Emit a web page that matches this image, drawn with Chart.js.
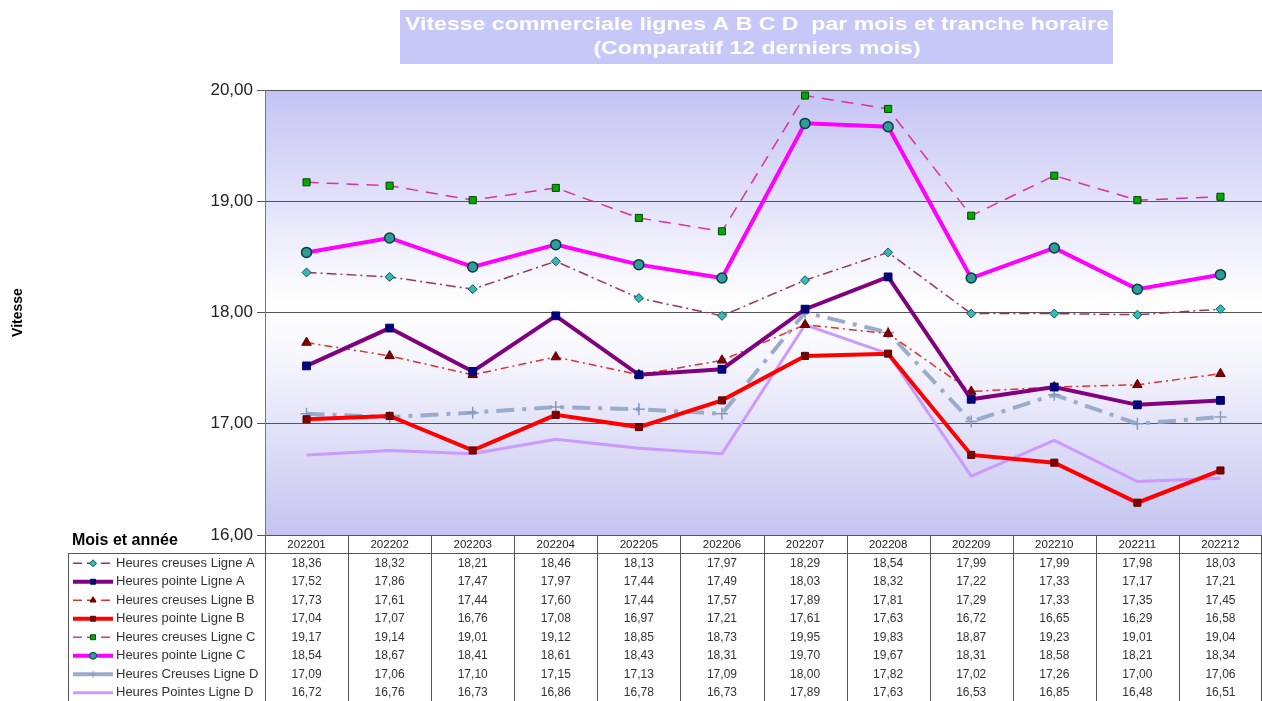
<!DOCTYPE html>
<html>
<head>
<meta charset="utf-8">
<script src="https://cdn.jsdelivr.net/npm/chart.js@4.4.0/dist/chart.umd.min.js"></script>
<style>
  html, body { margin: 0; padding: 0; background: #fff; overflow: hidden; }
  canvas { display: block; }
</style>
</head>
<body>
<canvas id="vitesseChart" width="1262" height="701"></canvas>
<script>
// months (x categories)
const mois = ['202201', '202202', '202203', '202204', '202205', '202206', '202207', '202208', '202209', '202210', '202211', '202212'];

// series values
const hcLigneA = [18.36, 18.32, 18.21, 18.46, 18.13, 17.97, 18.29, 18.54, 17.99, 17.99, 17.98, 18.03];
const hpLigneA = [17.52, 17.86, 17.47, 17.97, 17.44, 17.49, 18.03, 18.32, 17.22, 17.33, 17.17, 17.21];
const hcLigneB = [17.73, 17.61, 17.44, 17.60, 17.44, 17.57, 17.89, 17.81, 17.29, 17.33, 17.35, 17.45];
const hpLigneB = [17.04, 17.07, 16.76, 17.08, 16.97, 17.21, 17.61, 17.63, 16.72, 16.65, 16.29, 16.58];
const hcLigneC = [19.17, 19.14, 19.01, 19.12, 18.85, 18.73, 19.95, 19.83, 18.87, 19.23, 19.01, 19.04];
const hpLigneC = [18.54, 18.67, 18.41, 18.61, 18.43, 18.31, 19.70, 19.67, 18.31, 18.58, 18.21, 18.34];
const hcLigneD = [17.09, 17.06, 17.10, 17.15, 17.13, 17.09, 18.00, 17.82, 17.02, 17.26, 17.00, 17.06];
const hpLigneD = [16.72, 16.76, 16.73, 16.86, 16.78, 16.73, 17.89, 17.63, 16.53, 16.85, 16.48, 16.51];

// y axis ticks
const yTicks = [16, 17, 18, 19, 20];

const titre = ['Vitesse commerciale lignes A B C D  par mois et tranche horaire', '(Comparatif 12 derniers mois)'];

function fr(v) {
    return v.toFixed(2).replace('.', ',');
}

const datasets = [
    {
        label: 'Heures creuses Ligne A', data: hcLigneA,
        borderColor: '#993366', borderWidth: 1.5, borderDash: [10, 4, 2, 4],
        pointStyle: 'rectRot', pointRadius: 4.5, pointBackgroundColor: '#33bbbb', pointBorderColor: '#115555', pointBorderWidth: 1
    },
    {
        label: 'Heures pointe Ligne A', data: hpLigneA,
        borderColor: '#800080', borderWidth: 4,
        pointStyle: 'rect', pointRadius: 5.5, pointBackgroundColor: '#000080', pointBorderColor: '#000060', pointBorderWidth: 1
    },
    {
        label: 'Heures creuses Ligne B', data: hcLigneB,
        borderColor: '#e03030', borderWidth: 1.5, borderDash: [8, 4, 2, 4],
        pointStyle: 'triangle', pointRadius: 5.5, pointBackgroundColor: '#800000', pointBorderColor: '#600000', pointBorderWidth: 1
    },
    {
        label: 'Heures pointe Ligne B', data: hpLigneB,
        borderColor: '#ff0000', borderWidth: 4,
        pointStyle: 'rect', pointRadius: 5, pointBackgroundColor: '#800000', pointBorderColor: '#600000', pointBorderWidth: 1
    },
    {
        label: 'Heures creuses Ligne C', data: hcLigneC,
        borderColor: '#e0309a', borderWidth: 1.5, borderDash: [12, 8],
        pointStyle: 'rect', pointRadius: 5, pointBackgroundColor: '#00aa00', pointBorderColor: '#004400', pointBorderWidth: 1
    },
    {
        label: 'Heures pointe Ligne C', data: hpLigneC,
        borderColor: '#ff00ff', borderWidth: 4,
        pointStyle: 'circle', pointRadius: 5, pointBackgroundColor: '#339999', pointBorderColor: '#004040', pointBorderWidth: 1.5
    },
    {
        label: 'Heures Creuses Ligne D', data: hcLigneD,
        borderColor: '#9aaccc', borderWidth: 4, borderDash: [18, 8, 4, 8],
        pointStyle: 'cross', pointRadius: 6, pointBorderColor: '#8899bb', pointBorderWidth: 1.5
    },
    {
        label: 'Heures Pointes Ligne D', data: hpLigneD,
        borderColor: '#cc99ff', borderWidth: 3,
        pointRadius: 0
    }
];

// background gradient + title box
const decorPlugin = {
    id: 'decor',
    beforeDraw(chart) {
        const { ctx, chartArea: a } = chart;
        const g = ctx.createLinearGradient(0, a.top, 0, a.bottom);
        g.addColorStop(0, '#c4c4f4');
        g.addColorStop(0.25, '#e2e2fa');
        g.addColorStop(0.48, '#ffffff');
        g.addColorStop(0.62, '#f4f4fd');
        g.addColorStop(1, '#c4c4f0');
        ctx.save();
        ctx.fillStyle = g;
        ctx.fillRect(a.left, a.top, a.right - a.left, a.bottom - a.top);

        // title, stretched to fill the box like the original
        ctx.fillStyle = '#c8c8f8';
        ctx.fillRect(400, 10, 713, 54);
        ctx.fillStyle = '#ffffff';
        ctx.font = 'bold 18px "Liberation Sans", Arial, sans-serif';
        ctx.textAlign = 'center';
        ctx.textBaseline = 'middle';
        const w0 = ctx.measureText(titre[0]).width;
        const sx = 704 / w0;
        ctx.translate(757, 0);
        ctx.scale(sx, 1);
        ctx.fillText(titre[0], 0, 25);
        ctx.fillText(titre[1], 0, 49);
        ctx.restore();
    },
    // data table under the plot
    afterDraw(chart) {
        const { ctx, chartArea: a } = chart;
        const xs = chart.scales.x;
        const colW = (a.right - a.left) / mois.length;
        const top = a.bottom;
        const headH = 18;
        const rowH = 18.5;
        const legLeft = 68;
        ctx.save();
        ctx.strokeStyle = '#555';
        ctx.lineWidth = 1;

        // vertical lines
        for (let i = 0; i <= mois.length; i++) {
            const x = Math.min(Math.round(a.left + i * colW), 1261) + 0.5;
            ctx.beginPath();
            ctx.moveTo(x, top);
            ctx.lineTo(x, 701);
            ctx.stroke();
        }
        ctx.beginPath();
        ctx.moveTo(legLeft + 0.5, top + headH);
        ctx.lineTo(legLeft + 0.5, 701);
        ctx.stroke();
        ctx.beginPath();
        ctx.moveTo(legLeft, top + headH + 0.5);
        ctx.lineTo(a.right, top + headH + 0.5);
        ctx.stroke();

        ctx.fillStyle = '#000';
        ctx.font = 'bold 16px "Liberation Sans", Arial, sans-serif';
        ctx.textAlign = 'left';
        ctx.textBaseline = 'middle';
        ctx.fillText('Mois et année', 72, top + 6);

        ctx.font = '11.5px "Liberation Sans", Arial, sans-serif';
        ctx.textAlign = 'center';
        ctx.fillStyle = '#222';
        mois.forEach((m, i) => {
            ctx.fillText(m, xs.getPixelForValue(i), top + headH / 2 + 1);
        });

        datasets.forEach((ds, r) => {
            const cy = top + headH + rowH * r + rowH / 2 + 1;
            // legend symbol
            ctx.save();
            ctx.strokeStyle = ds.borderColor;
            ctx.lineWidth = ds.borderWidth;
            ctx.setLineDash(ds.borderWidth < 2 ? [9, 5] : []);
            ctx.beginPath();
            ctx.moveTo(73, cy);
            ctx.lineTo(113, cy);
            ctx.stroke();
            ctx.setLineDash([]);
            if (ds.pointRadius) {
                ctx.fillStyle = ds.pointBackgroundColor || ds.pointBorderColor;
                ctx.strokeStyle = ds.pointBorderColor;
                ctx.lineWidth = 1;
                Chart.helpers.drawPoint(ctx, { pointStyle: ds.pointStyle, radius: 3.5, borderWidth: 1, rotation: 0 }, 93, cy);
            }
            ctx.restore();

            ctx.fillStyle = '#333';
            ctx.textAlign = 'left';
            ctx.font = '13px "Liberation Sans", Arial, sans-serif';
            ctx.fillText(ds.label, 116, cy);
            ctx.textAlign = 'center';
            ctx.font = '12px "Liberation Sans", Arial, sans-serif';
            ds.data.forEach((v, i) => {
                ctx.fillText(fr(v), xs.getPixelForValue(i), cy);
            });
        });
        ctx.restore();
    }
};

new Chart(document.getElementById('vitesseChart').getContext('2d'), {
    type: 'line',
    data: { labels: mois, datasets: datasets },
    options: {
        responsive: false,
        animation: false,
        layout: { autoPadding: false, padding: { top: 90, left: 0, right: 0, bottom: 0 } },
        scales: {
            x: {
                offset: true,
                ticks: { display: false },
                grid: { display: false },
                border: { display: false },
                afterFit(scale) { scale.height = 166; }
            },
            y: {
                min: 16,
                max: 20,
                afterBuildTicks(scale) { scale.ticks = yTicks.map(v => ({ value: v })); },
                afterFit(scale) { scale.width = 265; },
                ticks: {
                    color: '#222',
                    padding: 4,
                    font: { family: '"Liberation Sans", Arial, sans-serif', size: 17 },
                    callback: v => fr(v)
                },
                grid: { color: '#555', lineWidth: 1, tickLength: 8 },
                border: { display: true, color: '#777' },
                title: {
                    display: true,
                    text: 'Vitesse',
                    color: '#000',
                    padding: { top: 10, bottom: 0 },
                    font: { family: '"Liberation Sans", Arial, sans-serif', size: 14, weight: 'bold' }
                }
            }
        },
        plugins: {
            legend: { display: false },
            tooltip: { enabled: false }
        }
    },
    plugins: [decorPlugin]
});
</script>
</body>
</html>
